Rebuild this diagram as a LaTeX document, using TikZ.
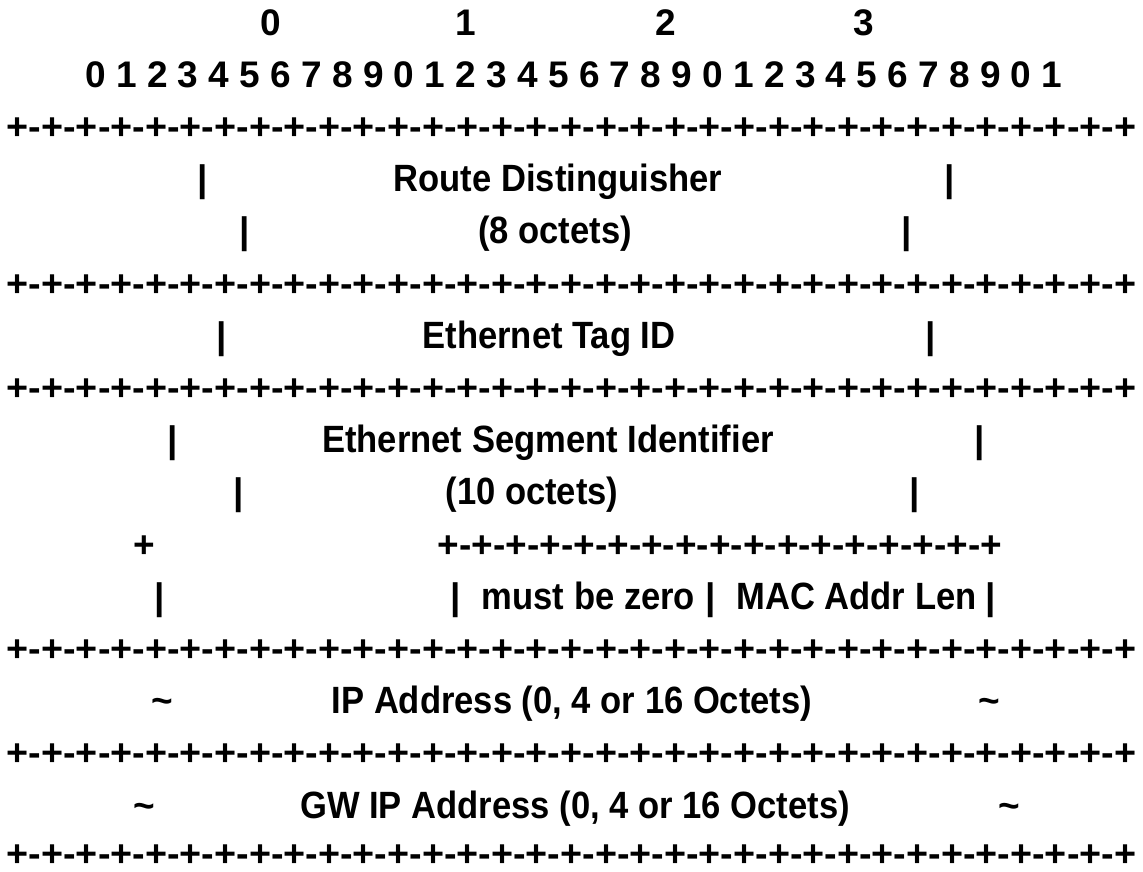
\documentclass[tikz,border=0pt]{standalone}
\usepackage{fontspec}
\setmainfont{Liberation Sans}
\newcommand\bitsfull{+-+-+-+-+-+-+-+-+-+-+-+-+-+-+-+-+-+-+-+-+-+-+-+-+-+-+-+-+-+-+-+-+}
\newcommand\bitshalf{+-+-+-+-+-+-+-+-+-+-+-+-+-+-+-+-+}
\newcommand\nw[1]{\scalebox{0.91}[1]{#1}}
\tikzset{
  txt/.style={anchor=base, inner sep=0pt, font=\bfseries\fontsize{37}{44}\selectfont},
  word/.style={anchor=base, inner sep=0pt, font=\bfseries\fontsize{38}{45}\selectfont},
}
\begin{document}
\begin{tikzpicture}[x=1pt,y=-1pt]
\useasboundingbox[fill=white] (0,0) rectangle (1143,871);
% row 0: byte numbers
\node[txt] (h0) at (271,35) {0};
\node[txt] (h1) at (466,35) {1};
\node[txt] (h2) at (666,35) {2};
\node[txt] (h3) at (864,35) {3};
% row 1: bit numbers
\node[txt] (bits) at (574,87.2) {0 1 2 3 4 5 6 7 8 9 0 1 2 3 4 5 6 7 8 9 0 1 2 3 4 5 6 7 8 9 0 1};
% row 2
\node[txt] (l2) at (571.5,139.4) {\scalebox{1.02}[1]{\bitsfull}};
% row 3
\node[txt] (p3a) at (203,191.6) {|};
\node[word] (rd) at (558,191.6) {\nw{Route Distinguisher}};
\node[txt] (p3b) at (950,191.6) {|};
% row 4
\node[txt] (p4a) at (245,243.8) {|};
\node[word] (rdo) at (555,243.8) {\nw{(8 octets)}};
\node[txt] (p4b) at (907,243.8) {|};
% row 5
\node[txt] (l5) at (571.5,296) {\scalebox{1.02}[1]{\bitsfull}};
% row 6
\node[txt] (p6a) at (222,348.2) {|};
\node[word] (etag) at (549,348.2) {\nw{Ethernet Tag ID}};
\node[txt] (p6b) at (931,348.2) {|};
% row 7
\node[txt] (l7) at (571.5,400.4) {\scalebox{1.02}[1]{\bitsfull}};
% row 8
\node[txt] (p8a) at (173,452.6) {|};
\node[word] (esi) at (548,452.6) {\nw{Ethernet Segment Identifier}};
\node[txt] (p8b) at (980,452.6) {|};
% row 9
\node[txt] (p9a) at (239,504.8) {|};
\node[word] (esio) at (532,504.8) {\nw{(10 octets)}};
\node[txt] (p9b) at (915,504.8) {|};
% row 10
\node[txt] (pl10) at (144,557) {+};
\node[txt] (l10) at (720,557) {\bitshalf};
% row 11
\node[txt] (p11a) at (160,609.2) {|};
\node[txt] (p11b) at (456,609.2) {|};
\node[word] (mbz) at (588.5,609.2) {\nw{must be zero}};
\node[txt] (p11c) at (711,609.2) {|};
\node[word] (mal) at (856.5,609.2) {\nw{MAC Addr Len}};
\node[txt] (p11d) at (991,609.2) {|};
% row 12
\node[txt] (l12) at (571.5,661.4) {\scalebox{1.02}[1]{\bitsfull}};
% row 13
\node[txt] (t13a) at (162,713.6) {\char`\~};
\node[word] (ip) at (572,713.6) {\nw{IP Address (0, 4 or 16 Octets)}};
\node[txt] (t13b) at (989,713.6) {\char`\~};
% row 14
\node[txt] (l14) at (571.5,765.8) {\scalebox{1.02}[1]{\bitsfull}};
% row 15
\node[txt] (t15a) at (144,818) {\char`\~};
\node[word] (gw) at (575,818) {\nw{GW IP Address (0, 4 or 16 Octets)}};
\node[txt] (t15b) at (1009,818) {\char`\~};
% row 16
\node[txt] (l16) at (571.5,866) {\scalebox{1.02}[1]{\bitsfull}};
\end{tikzpicture}
\end{document}
